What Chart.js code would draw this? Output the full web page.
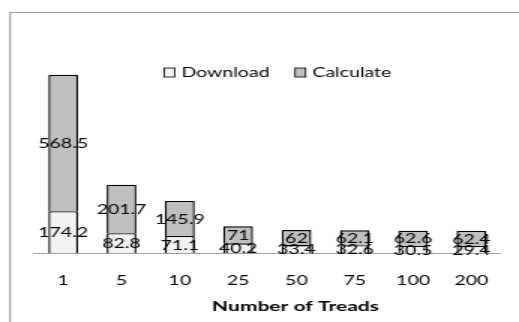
<!DOCTYPE html>
<html>
<head>
<meta charset="utf-8">
<script src="https://cdn.jsdelivr.net/npm/chart.js@4/dist/chart.umd.min.js"></script>
<style>
  html, body { margin: 0; padding: 0; background: #ffffff; overflow: hidden; }
  #wrap {
    position: absolute; left: 0; top: 0;
    width: 346px; height: 322px;
    transform: scaleX(1.5); transform-origin: 0 0;
  }
  canvas { display: block; }
</style>
</head>
<body>
<div id="wrap"><canvas id="c" width="346" height="322"></canvas></div>
<script>
// Run time by thread count, split into download and calculation parts
const threads = ['1', '5', '10', '25', '50', '75', '100', '200'];
const downloadTimes = [174.2, 82.8, 71.1, 40.2, 33.4, 32.6, 30.5, 29.4];
const calculateTimes = [568.5, 201.7, 145.9, 71, 62, 62.1, 62.6, 62.4];
const seriesNames = ['Download', 'Calculate'];
const axisTitle = 'Number of Treads';

const FONT = 'Lato, "Liberation Sans", sans-serif';

// Outer frame of the chart object (only its top and left edges fall inside the page)
const framePlugin = {
  id: 'frame',
  beforeDraw(chart) {
    const ctx = chart.ctx;
    ctx.save();
    ctx.strokeStyle = '#a0a0a0';
    ctx.lineWidth = 1.2;
    ctx.beginPath();
    ctx.moveTo(6.7, 400);
    ctx.lineTo(6.7, 12.5);
    ctx.lineTo(400, 12.5);
    ctx.stroke();
    ctx.restore();
  }
};

// Value labels centred on every stacked segment
const valueLabels = {
  id: 'valueLabels',
  afterDatasetsDraw(chart) {
    const ctx = chart.ctx;
    ctx.save();
    ctx.font = '13px ' + FONT;
    ctx.fillStyle = '#000000';
    ctx.textAlign = 'center';
    ctx.textBaseline = 'middle';
    chart.data.datasets.forEach((ds, di) => {
      const meta = chart.getDatasetMeta(di);
      meta.data.forEach((bar, i) => {
        const p = bar.getProps(['x', 'y', 'base'], true);
        ctx.fillText(String(ds.data[i]), p.x, (p.y + p.base) / 2 + 1);
      });
    });
    ctx.restore();
  }
};

// Legend laid over the plot area, and the axis title under the tick labels
const overlayText = {
  id: 'overlayText',
  afterDraw(chart) {
    const ctx = chart.ctx;
    ctx.save();
    ctx.font = '13px ' + FONT;
    ctx.textBaseline = 'middle';
    ctx.textAlign = 'left';
    let x = 109.5;
    const yMid = 72.5;
    chart.data.datasets.forEach((ds) => {
      ctx.fillStyle = ds.backgroundColor;
      ctx.fillRect(x, yMid - 4.5, 7, 9);
      ctx.strokeStyle = '#111111';
      ctx.lineWidth = 0.9;
      ctx.strokeRect(x, yMid - 4.5, 7, 9);
      ctx.fillStyle = '#000000';
      ctx.fillText(ds.label, x + 11.5, yMid);
      x += 11.5 + ctx.measureText(ds.label).width + 17;
    });
    ctx.font = 'bold 14px ' + FONT;
    ctx.textAlign = 'center';
    ctx.fillText(axisTitle, 197, 306.5);
    ctx.restore();
  }
};

new Chart(document.getElementById('c'), {
  type: 'bar',
  data: {
    labels: threads,
    datasets: [
      {
        label: seriesNames[0],
        data: downloadTimes,
        backgroundColor: '#f2f2f2',
        borderColor: '#000000',
        borderWidth: 1.4
      },
      {
        label: seriesNames[1],
        data: calculateTimes,
        backgroundColor: '#bfbfbf',
        borderColor: '#000000',
        borderWidth: 1.4
      }
    ]
  },
  options: {
    responsive: false,
    animation: false,
    events: [],
    layout: { padding: { top: 61, left: 22.7, right: 6.7, bottom: 0 } },
    datasets: { bar: { categoryPercentage: 1, barPercentage: 0.51 } },
    plugins: {
      legend: { display: false },
      title: { display: false },
      tooltip: { enabled: false }
    },
    scales: {
      x: {
        stacked: true,
        grid: { display: false, drawTicks: false },
        border: { display: true, color: '#a0a0a0', width: 1 },
        ticks: { color: '#000000', padding: 20, font: { family: FONT, size: 13 } },
        afterFit(scale) { scale.height = 69; }
      },
      y: {
        stacked: true,
        display: false,
        min: 0,
        max: 800
      }
    }
  },
  plugins: [framePlugin, valueLabels, overlayText]
});
</script>
</body>
</html>
